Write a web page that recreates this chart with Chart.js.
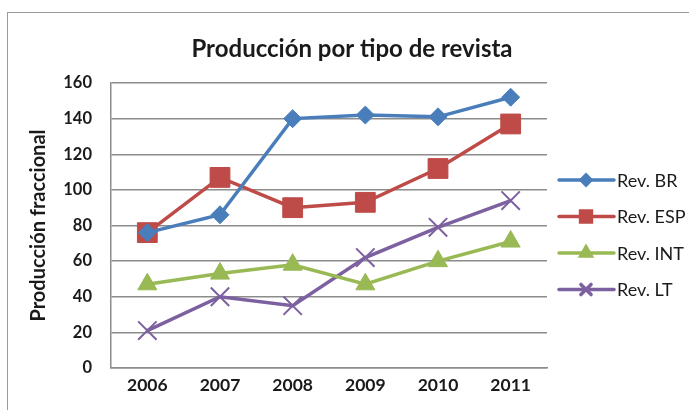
<!DOCTYPE html>
<html lang="es">
<head>
  <meta charset="UTF-8">
  <title>Producción por tipo de revista</title>
  <script src="https://cdn.jsdelivr.net/npm/chart.js"></script>
  <style>
    html, body {
      margin: 0;
      padding: 0;
      background: #fff;
      overflow: hidden;
    }
    #wrap {
      position: relative;
      width: 689px;
      height: 410px;
    }
    #frame {
      position: absolute;
      left: 7px;
      top: 12px;
      width: 720px;
      height: 440px;
      border: 1px solid #9a9a9a;
      pointer-events: none;
    }
  </style>
</head>
<body>
  <div id="wrap">
    <canvas id="chart" width="689" height="410"></canvas>
    <div id="frame"></div>
  </div>

  <script>
    // values
    const years = ['2006', '2007', '2008', '2009', '2010', '2011'];
    const revBR  = [76, 86, 140, 142, 141, 152];
    const revESP = [76, 107, 90, 93, 112, 137];
    const revINT = [47, 53, 58, 47, 60, 71];
    const revLT  = [21, 40, 35, 62, 79, 94];

    const chartTitle = 'Producción por tipo de revista';
    const FONT = 'Lato, "Open Sans", sans-serif';

    // title sits over the plot + legend block, so draw it by hand
    // and put the line legend on the right
    const extras = {
      id: 'extras',
      afterDraw(chart) {
        const ctx = chart.ctx;
        ctx.save();
        ctx.fillStyle = '#1a1a1a';
        ctx.font = 'bold 24px ' + FONT;
        ctx.textAlign = 'center';
        ctx.textBaseline = 'alphabetic';
        ctx.fillText(chartTitle, 352, 57);

        ctx.textAlign = 'left';
        chart.data.datasets.forEach((ds, i) => {
          const y = 180 + i * 36.5;
          ctx.strokeStyle = ds.borderColor;
          ctx.lineWidth = 3.5;
          ctx.lineCap = 'round';
          ctx.beginPath();
          ctx.moveTo(559, y);
          ctx.lineTo(614, y);
          ctx.stroke();
          ctx.fillStyle = ds.borderColor;
          Chart.helpers.drawPoint(ctx, {
            pointStyle: ds.pointStyle,
            radius: ds.pointRadius * 0.55,
            borderWidth: 1
          }, 586, y);
          ctx.fillStyle = '#1a1a1a';
          ctx.font = '18px ' + FONT;
          ctx.textBaseline = 'middle';
          ctx.fillText(ds.label, 617, y + 1);
        });
        ctx.restore();
      }
    };

    function series(label, data, color, style, radius) {
      return {
        label, data,
        borderColor: color,
        backgroundColor: color,
        borderWidth: 3.5,
        pointStyle: style,
        pointRadius: radius,
        pointBorderColor: color,
        pointBackgroundColor: color,
        pointBorderWidth: style === 'crossRot' ? 2 : 1,
        tension: 0
      };
    }

    new Chart(document.getElementById('chart'), {
      type: 'line',
      data: {
        labels: years,
        datasets: [
          series('Rev. BR', revBR, '#4a7ebb', 'rectRot', 9),
          series('Rev. ESP', revESP, '#be4b48', 'rect', 14),
          series('Rev. INT', revINT, '#98b954', 'triangle', 11),
          series('Rev. LT', revLT, '#7d60a0', 'crossRot', 13)
        ]
      },
      options: {
        responsive: false,
        animation: false,
        layout: { padding: { left: 10, right: 142, top: 83, bottom: 0 } },
        plugins: {
          legend: { display: false },
          tooltip: { enabled: false }
        },
        scales: {
          x: {
            offset: true,
            grid: { display: false, drawTicks: false },
            border: { color: '#8c8c8c', width: 1.5 },
            ticks: {
              color: '#1a1a1a',
              padding: 7,
              font: { family: FONT, size: 17.5, weight: 'bold' }
            },
            afterFit(scale) { scale.height = 42; }
          },
          y: {
            min: 0,
            max: 160,
            ticks: {
              stepSize: 20,
              color: '#1a1a1a',
              padding: 19,
              font: { family: FONT, size: 16.5, weight: 'bold' }
            },
            grid: { color: '#8c8c8c', lineWidth: 1.5, drawTicks: false },
            border: { color: '#8c8c8c', width: 1.5 },
            title: {
              display: true,
              text: 'Producción fraccional',
              color: '#1a1a1a',
              font: { family: FONT, size: 20, weight: 'bold' },
              padding: { top: 17, bottom: 0 }
            },
            afterFit(scale) { scale.width = 101; }
          }
        }
      },
      plugins: [extras]
    });
  </script>
</body>
</html>
